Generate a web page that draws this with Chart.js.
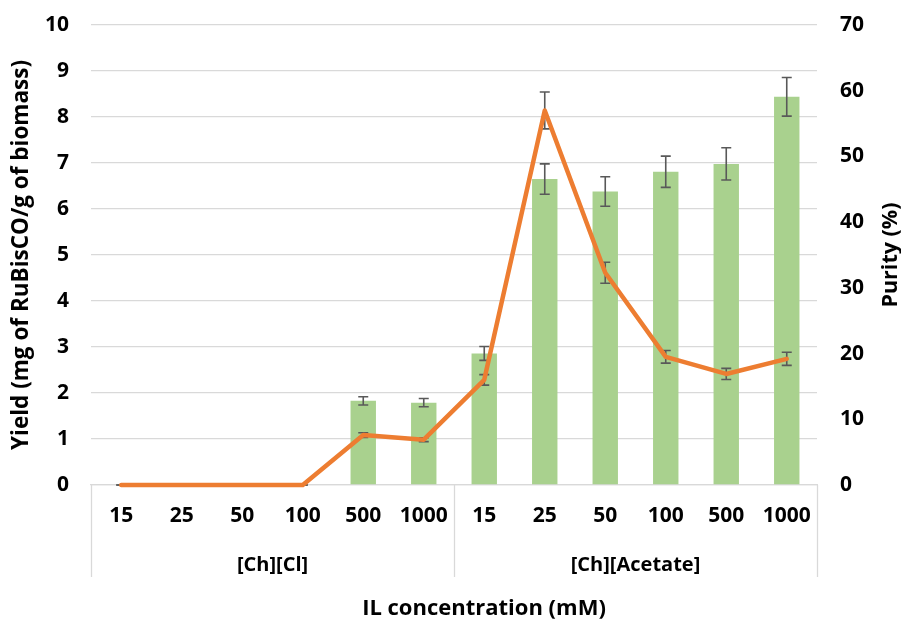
<!DOCTYPE html>
<html>
<head>
<meta charset="utf-8">
<title>Yield and purity</title>
<script src="https://cdn.jsdelivr.net/npm/chart.js@4.4.1/dist/chart.umd.min.js"></script>
<style>
  html, body { margin: 0; padding: 0; background: #fff; }
  #wrap { width: 901px; height: 619px; }
</style>
</head>
<body>
<div id="wrap"><canvas id="yieldChart" width="901" height="619"></canvas></div>
<script>
// concentrations (mM), two ionic liquids with 6 each
const concentrations = ["15", "25", "50", "100", "500", "1000", "15", "25", "50", "100", "500", "1000"];
const groups = ["[Ch][Cl]", "[Ch][Acetate]"];
const groupSize = 6;

// yield (mg RuBisCO / g biomass) with std dev
const yieldValues = [0, 0, 0, 0, 1.83, 1.79, 2.86, 6.65, 6.38, 6.81, 6.98, 8.44];
const yieldErrors = [0, 0, 0, 0, 0.09, 0.09, 0.15, 0.33, 0.32, 0.34, 0.35, 0.42];

// purity (%) with std dev
const purityValues = [0, 0, 0, 0, 7.6, 6.9, 16.0, 57.0, 32.3, 19.5, 16.9, 19.2];
const purityErrors = [0, 0, 0, 0, 0.35, 0.3, 0.8, 2.8, 1.6, 0.96, 0.84, 1.0];

const yieldTicks = [0, 1, 2, 3, 4, 5, 6, 7, 8, 9, 10];
const purityTicks = [0, 10, 20, 30, 40, 50, 60, 70];

const FONT = "'Open Sans', 'DejaVu Sans', sans-serif";
const GRID = "#d9d9d9";

// error bars: draw "I" shapes using the dataset's own y scale
function drawErrors(chart, index, values, errors) {
  const meta = chart.getDatasetMeta(index);
  const yScale = chart.scales[meta.yAxisID];
  const ctx = chart.ctx;
  ctx.save();
  ctx.strokeStyle = "#595959";
  ctx.lineWidth = 1.6;
  meta.data.forEach(function (el, i) {
    const x = el.x;
    const hi = yScale.getPixelForValue(values[i] + errors[i]);
    const lo = yScale.getPixelForValue(values[i] - errors[i]);
    ctx.beginPath();
    ctx.moveTo(x, hi);
    ctx.lineTo(x, lo);
    ctx.moveTo(x - 5, hi);
    ctx.lineTo(x + 5, hi);
    ctx.moveTo(x - 5, lo);
    ctx.lineTo(x + 5, lo);
    ctx.stroke();
  });
  ctx.restore();
}

const errorBars = {
  id: "errorBars",
  afterDatasetDraw(chart, args) {
    if (args.index === 1) drawErrors(chart, 1, yieldValues, yieldErrors);
  },
  beforeDatasetDraw(chart, args) {
    if (args.index === 0) drawErrors(chart, 0, purityValues, purityErrors);
  },
};

// second row of the category axis + right and bottom titles
const groupAxis = {
  id: "groupAxis",
  afterDraw(chart) {
    const { ctx, scales } = chart;
    const x = scales.x;
    const catW = x.width / concentrations.length;
    const base = x.top;
    ctx.save();
    ctx.strokeStyle = GRID;
    ctx.lineWidth = 1.3;
    for (let g = 0; g <= groups.length; g++) {
      const px = Math.round(x.left + g * groupSize * catW) + 0.5;
      ctx.beginPath();
      ctx.moveTo(px, base);
      ctx.lineTo(px, base + 92);
      ctx.stroke();
    }
    ctx.fillStyle = "#000";
    ctx.font = "bold 20px " + FONT;
    ctx.textAlign = "center";
    ctx.textBaseline = "middle";
    groups.forEach(function (name, g) {
      const cx = x.left + (g + 0.5) * groupSize * catW;
      ctx.fillText(name, cx, base + 80);
    });

    // bottom title
    ctx.font = "bold 22px " + FONT;
    ctx.fillText("IL concentration (mM)", 484, 609);

    // right title, reads bottom to top
    const y2 = scales.y2;
    ctx.font = "bold 21.5px " + FONT;
    ctx.translate(891, (y2.top + y2.bottom) / 2);
    ctx.rotate(-Math.PI / 2);
    ctx.fillText("Purity (%)", 0, 0);
    ctx.restore();
  },
};

// keep tick padding from pushing the plot top down
function fixWidth(w) {
  return function (scale) {
    scale.width = w;
    scale.paddingTop = 0;
    scale.paddingBottom = 0;
  };
}

const ctx = document.getElementById("yieldChart").getContext("2d");
new Chart(ctx, {
  data: {
    labels: concentrations,
    datasets: [
      {
        type: "line",
        label: "Purity (%)",
        data: purityValues,
        yAxisID: "y2",
        borderColor: "#ed7d31",
        borderWidth: 4.5,
        borderJoinStyle: "round",
        borderCapStyle: "round",
        pointRadius: 0,
        tension: 0,
        clip: false,
        order: 0,
      },
      {
        type: "bar",
        label: "Yield",
        data: yieldValues,
        yAxisID: "y",
        backgroundColor: "#a9d18e",
        borderWidth: 0,
        barPercentage: 0.42,
        categoryPercentage: 1,
        order: 1,
      },
    ],
  },
  options: {
    responsive: false,
    animation: false,
    events: [],
    layout: { padding: { top: 25, left: 0, right: 0, bottom: 0 } },
    plugins: {
      legend: { display: false },
      tooltip: { enabled: false },
    },
    scales: {
      x: {
        grid: { display: false, drawTicks: false },
        border: { display: true, color: GRID, width: 1.3 },
        ticks: {
          color: "#000",
          font: { family: FONT, size: 21, weight: "bold" },
          padding: 18,
          maxRotation: 0,
          autoSkip: false,
        },
        afterFit(scale) { scale.height = 134; },
      },
      y: {
        position: "left",
        min: 0,
        max: 10,
        afterBuildTicks(scale) { scale.ticks = yieldTicks.map(v => ({ value: v })); },
        grid: { color: GRID, lineWidth: 1.3, drawTicks: false },
        border: { display: false },
        ticks: {
          color: "#000",
          font: { family: FONT, size: 21, weight: "bold" },
          padding: 22,
        },
        title: {
          display: true,
          text: "Yield (mg of RuBisCO/g of biomass)",
          color: "#000",
          font: { family: FONT, size: 22.5, weight: "bold" },
          padding: { top: 8, bottom: 0 },
        },
        afterFit: fixWidth(91),
      },
      y2: {
        position: "right",
        min: 0,
        max: 70,
        afterBuildTicks(scale) { scale.ticks = purityTicks.map(v => ({ value: v })); },
        grid: { display: false, drawTicks: false },
        border: { display: false },
        ticks: {
          color: "#000",
          font: { family: FONT, size: 21, weight: "bold" },
          padding: 23,
        },
        afterFit: fixWidth(84),
      },
    },
  },
  plugins: [errorBars, groupAxis],
});
</script>
</body>
</html>
